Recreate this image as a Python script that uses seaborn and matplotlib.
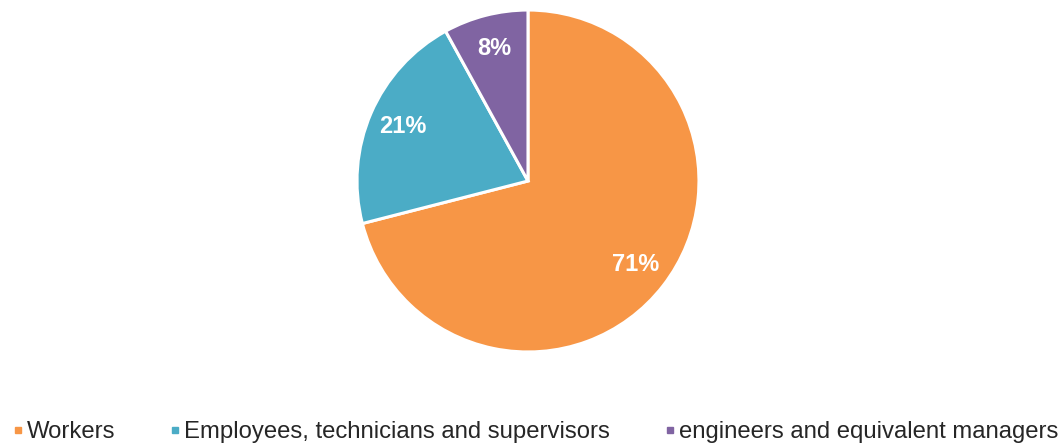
import matplotlib
matplotlib.use("Agg")
import matplotlib.pyplot as plt
from matplotlib.lines import Line2D
import seaborn as sns

# --- data ---
categories = ['Workers', 'Employees, technicians and supervisors',
              'engineers and equivalent managers']
shares = [71, 21, 8]
colors = ['#F79646', '#4BACC6', '#8064A2']

sns.set_theme(style='white')
plt.rcParams['font.family'] = ['Liberation Sans', 'DejaVu Sans']

palette = sns.color_palette(colors)

fig = plt.figure(figsize=(10.6, 4.45), dpi=100)
ax = fig.add_axes([0.3368, 0.209, 0.3226, 0.7685])

ax.pie(
    shares,
    colors=palette,
    startangle=90,
    counterclock=False,
    autopct='%d%%',
    pctdistance=0.8,
    wedgeprops={'edgecolor': 'white', 'linewidth': 2.2},
    textprops={'color': 'white', 'fontsize': 17, 'fontweight': 'bold'},
)
ax.set_aspect('equal')
ax.set_xlim(-1, 1)
ax.set_ylim(-1, 1)

# --- legend along the bottom ---
handles = [Line2D([0], [0], marker='s', linestyle='', markersize=5,
                  markerfacecolor=c, markeredgecolor=c) for c in palette]
fig.legend(
    handles, categories,
    loc='center left', bbox_to_anchor=(0.011, 0.029),
    ncol=3, frameon=False, fontsize=17.2,
    handlelength=0.5, handletextpad=0.14, columnspacing=2.25,
    borderpad=0, borderaxespad=0,
)

fig.savefig('out.png', dpi=100)
